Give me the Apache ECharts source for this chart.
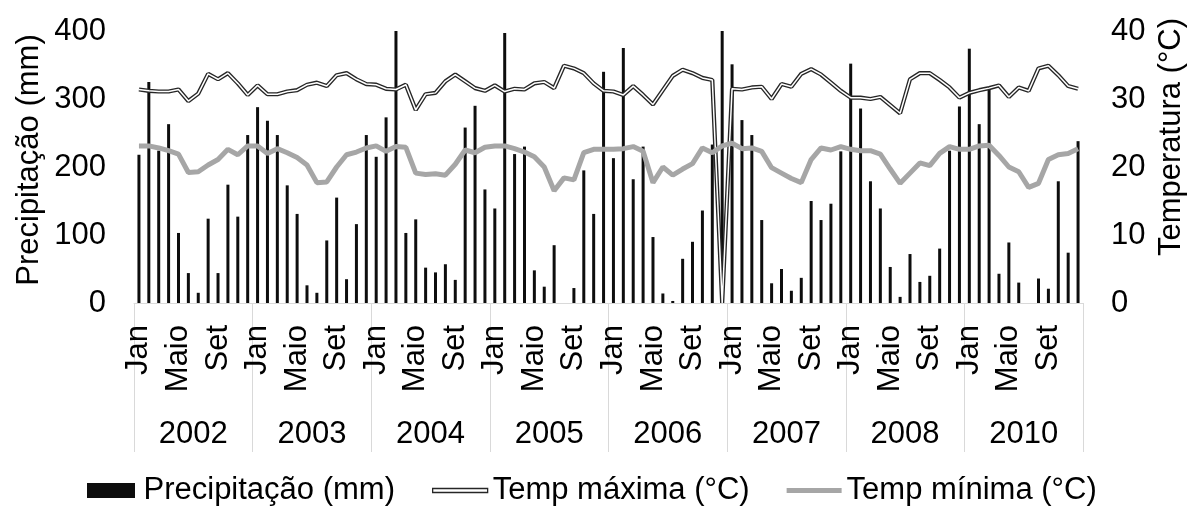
<!DOCTYPE html>
<html>
<head>
<meta charset="utf-8">
<script src="https://cdn.jsdelivr.net/npm/echarts@6/dist/echarts.min.js"></script>
<style>
    html, body { margin: 0; padding: 0; background: #fff; }
    #chart { width: 1187px; height: 506px; }
</style>
</head>
<body>
<div id="chart"></div>
<script>
var anos = ['2002', '2003', '2004', '2005', '2006', '2007', '2008', '2010'];
var meses = ['Jan', 'Fev', 'Mar', 'Abr', 'Maio', 'Jun', 'Jul', 'Ago', 'Set', 'Out', 'Nov', 'Dez'];

// precipitacao mensal (mm), jan..dez de cada ano
var precip = [
    218, 325, 224, 263, 103, 44, 15, 124, 44, 174, 127, 247,
    288, 268, 247, 173, 131, 26, 15, 92, 155, 35, 116, 247,
    215, 273, 400, 103, 123, 52, 45, 57, 34, 258, 290, 167,
    139, 397, 219, 230, 48, 24, 85, 0, 22, 195, 131, 340,
    213, 375, 182, 230, 97, 14, 3, 65, 90, 136, 233, 400,
    351, 269, 247, 122, 29, 50, 18, 37, 150, 122, 146, 223,
    352, 286, 179, 139, 53, 9, 72, 31, 40, 80, 224, 289,
    374, 263, 317, 43, 89, 30, 0, 36, 21, 179, 74, 238
];

var tmax = [
    31.4, 31.2, 31.1, 31.1, 31.4, 29.7, 30.8, 33.7, 32.9, 33.8, 32.3, 30.6,
    32.0, 30.7, 30.7, 31.1, 31.3, 32.1, 32.4, 31.9, 33.5, 33.8, 32.9, 32.2,
    32.1, 31.5, 31.4, 32.1, 28.4, 30.7, 30.9, 32.6, 33.6, 32.6, 31.6, 31.2,
    32.0, 31.1, 31.5, 31.4, 32.3, 32.5, 31.6, 34.9, 34.5, 33.8, 32.3, 31.2,
    31.1, 30.6, 31.9, 30.6, 29.2, 31.3, 33.4, 34.3, 33.8, 33.1, 32.8, 0,
    31.5, 31.4, 31.7, 31.8, 30.0, 32.2, 31.8, 33.7, 34.4, 33.6, 32.4, 31.2,
    30.2, 30.2, 30.0, 30.3, 29.1, 27.9, 32.9, 33.8, 33.8, 32.8, 31.7, 30.2,
    30.9, 31.3, 31.6, 32.0, 30.3, 31.7, 31.2, 34.5, 34.9, 33.5, 31.9, 31.5
];

var tmin = [
    23.1, 23.1, 22.8, 22.4, 21.9, 19.2, 19.3, 20.3, 21.1, 22.6, 21.8, 23.1,
    23.1, 22.0, 22.7, 22.1, 21.4, 20.3, 17.7, 17.8, 20.0, 21.8, 22.2, 22.8,
    23.1, 22.3, 23.0, 22.9, 19.1, 18.9, 19.0, 18.8, 20.4, 22.5, 22.1, 22.9,
    23.1, 23.1, 22.7, 22.2, 21.5, 20.0, 16.5, 18.4, 18.1, 22.1, 22.6, 22.6,
    22.6, 22.7, 23.0, 22.3, 17.7, 20.0, 18.8, 19.7, 20.5, 22.8, 22.1, 23.1,
    23.5, 22.7, 22.8, 22.3, 19.9, 19.1, 18.3, 17.7, 21.1, 22.8, 22.5, 23.0,
    22.6, 22.4, 22.4, 21.9, 19.7, 17.6, 19.1, 20.6, 20.2, 22.0, 23.0, 22.6,
    22.6, 23.1, 23.2, 21.7, 20.0, 19.3, 17.0, 17.6, 21.1, 21.8, 22.0, 22.7
];

var categorias = [];
for (var i = 0; i < anos.length; i++) {
    for (var j = 0; j < meses.length; j++) {
        categorias.push(meses[j]);
    }
}

var fonte = 'Liberation Sans, Arial, sans-serif';
var cinzaEixo = '#d9d9d9';

var chart = echarts.init(document.getElementById('chart'));

var option = {
    animation: false,
    textStyle: {fontFamily: fonte, color: '#000'},
    grid: {
        left: 134,
        right: 104,
        top: 31,
        bottom: 203
    },
    legend: {
        left: 82,
        top: 470,
        itemWidth: 55,
        itemHeight: 15,
        itemGap: 37,
        textStyle: {fontSize: 31, fontFamily: fonte, color: '#000'},
        data: [
            {name: 'Precipitação (mm)', icon: 'path://M0,0h48v15h-48z', itemStyle: {color: '#0d0d0d'}},
            {name: 'Temp máxima (°C)', icon: 'path://M0,0h55v4h-55z',
                itemStyle: {color: '#fff', borderColor: '#262626', borderWidth: 1.3}},
            {name: 'Temp mínima (°C)', icon: 'path://M0,0h55v5h-55z', itemStyle: {color: '#a6a6a6'}}
        ]
    },
    graphic: [
        {
            type: 'text',
            x: 29,
            y: 160,
            rotation: Math.PI / 2,
            style: {
                text: 'Precipitação (mm)',
                font: '31px ' + fonte,
                fill: '#000',
                align: 'center',
                verticalAlign: 'middle'
            }
        },
        {
            type: 'text',
            x: 1171,
            y: 137,
            rotation: Math.PI / 2,
            style: {
                text: 'Temperatura (°C)',
                font: '31px ' + fonte,
                fill: '#000',
                align: 'center',
                verticalAlign: 'middle'
            }
        }
    ],
    xAxis: [
        {
            type: 'category',
            data: categorias,
            position: 'bottom',
            axisLine: {lineStyle: {color: cinzaEixo, width: 1}},
            axisTick: {show: false},
            axisLabel: {
                interval: 3,
                rotate: 90,
                margin: 22,
                fontSize: 31,
                fontFamily: fonte,
                color: '#000'
            },
            splitLine: {show: false}
        },
        {
            type: 'category',
            data: anos,
            position: 'bottom',
            axisLine: {show: false},
            axisTick: {
                show: true,
                interval: 0,
                length: 149,
                lineStyle: {color: cinzaEixo, width: 1}
            },
            axisLabel: {
                interval: 0,
                margin: 116,
                fontSize: 31,
                fontFamily: fonte,
                color: '#000'
            },
            splitLine: {show: false}
        }
    ],
    yAxis: [
        {
            type: 'value',
            min: 0,
            max: 400,
            interval: 100,
            axisLine: {show: false},
            axisTick: {show: false},
            splitLine: {show: false},
            axisLabel: {margin: 28, fontSize: 31, fontFamily: fonte, color: '#000'}
        },
        {
            type: 'value',
            min: 0,
            max: 40,
            interval: 10,
            position: 'right',
            axisLine: {show: false},
            axisTick: {show: false},
            splitLine: {show: false},
            axisLabel: {margin: 28, fontSize: 31, fontFamily: fonte, color: '#000'}
        }
    ],
    series: [
        {
            name: 'Precipitação (mm)',
            type: 'bar',
            xAxisIndex: 0,
            yAxisIndex: 0,
            barWidth: 3,
            itemStyle: {color: '#0d0d0d'},
            data: precip
        },
        {
            name: 'Temp máxima (°C)',
            type: 'line',
            xAxisIndex: 0,
            yAxisIndex: 1,
            showSymbol: false,
            lineStyle: {color: '#262626', width: 4.2},
            itemStyle: {color: '#fff'},
            data: tmax
        },
        {
            // miolo branco da linha dupla
            name: 'tmax_miolo',
            type: 'line',
            xAxisIndex: 0,
            yAxisIndex: 1,
            showSymbol: false,
            silent: true,
            lineStyle: {color: '#fff', width: 1.5},
            data: tmax
        },
        {
            name: 'Temp mínima (°C)',
            type: 'line',
            xAxisIndex: 0,
            yAxisIndex: 1,
            showSymbol: false,
            lineStyle: {color: '#a6a6a6', width: 5},
            itemStyle: {color: '#a6a6a6'},
            data: tmin
        }
    ]
};

chart.setOption(option);
</script>
</body>
</html>
